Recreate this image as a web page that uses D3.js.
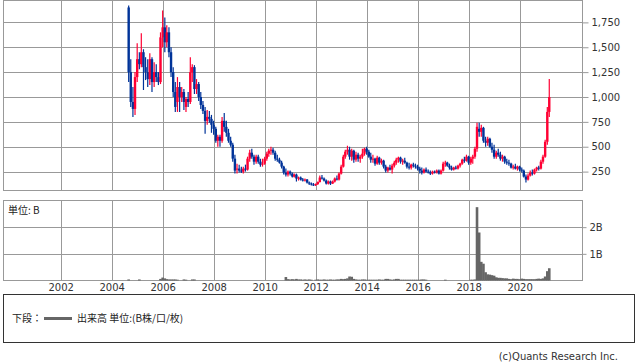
<!DOCTYPE html>
<html>
<head>
<meta charset="utf-8">
<script src="https://cdn.jsdelivr.net/npm/d3@7"></script>
<style>
  body { margin: 0; background: #fff; }
  svg { display: block; }
</style>
</head>
<body>
<div id="chart"></div>
<script>
// monthly candles, first one is Aug 2004
const firstMonth = new Date(2004, 7, 1);

// [open, high, low, close]
const candles = [
  // 2004
  [1900,1920,1150,1250],[1250,1380,900,950],[950,1100,800,880],[880,1250,820,1200],[1200,1540,1150,1380],
  // 2005
  [1380,1450,1280,1330],[1330,1640,1300,1450],[1450,1480,1070,1300],[1300,1400,1170,1250],[1250,1380,1100,1180],[1180,1440,1120,1380],
  [1380,1400,1050,1150],[1150,1350,1100,1250],[1250,1330,1150,1200],[1200,1250,1120,1150],[1150,1650,1130,1600],[1600,1870,1500,1700],
  // 2006
  [1700,1800,1450,1550],[1550,1720,1500,1650],[1650,1700,1400,1450],[1450,1500,1200,1250],[1250,1300,1000,1050],[1050,1150,850,900],
  [950,1200,850,1100],[1100,1150,850,1000],[1000,1100,950,1050],[1050,1080,870,950],[900,1000,850,980],[980,1050,900,950],
  // 2007
  [950,1400,930,1250],[1250,1330,1150,1300],[1300,1320,1030,1080],[1080,1180,1030,1130],[1130,1150,960,1000],[1000,1050,880,920],
  [920,960,830,860],[860,900,630,760],[760,870,720,800],[800,860,740,780],[780,820,640,720],[720,760,620,680],
  // 2008
  [680,700,540,560],[560,620,500,600],[600,620,500,560],[560,800,540,760],[760,840,650,700],[700,760,600,640],
  [640,680,540,560],[560,600,500,520],[520,540,350,380],[380,420,230,260],[270,330,230,280],[280,320,240,260],
  // 2009
  [260,300,235,250],[250,300,230,280],[280,320,250,270],[270,400,260,380],[380,470,350,440],[440,480,380,400],
  [400,420,320,350],[350,420,330,400],[400,420,330,350],[350,380,300,320],[320,380,300,330],[330,400,320,380],
  // 2010
  [380,450,360,430],[430,480,400,460],[460,500,420,470],[470,490,420,440],[440,460,360,380],[380,420,350,370],
  [370,390,330,340],[340,360,280,300],[300,310,220,240],[240,280,200,220],[220,260,200,250],[250,260,210,230],
  // 2011
  [230,240,190,200],[200,230,190,220],[220,230,150,180],[180,200,160,190],[190,200,160,170],[170,185,150,160],
  [160,180,150,170],[170,175,130,140],[140,150,115,130],[130,140,110,120],[120,135,105,115],[115,130,105,125],
  // 2012
  [125,150,115,145],[145,210,140,190],[190,215,170,180],[180,190,150,160],[160,170,120,130],[130,160,120,150],
  [150,160,115,130],[130,160,125,150],[150,190,140,180],[180,210,160,170],[170,240,160,230],[230,320,220,300],
  // 2013
  [300,420,290,400],[400,470,380,450],[450,510,420,470],[470,500,370,400],[400,480,360,460],[460,470,340,370],
  [370,450,350,420],[420,440,350,380],[380,420,340,400],[400,480,380,430],[430,490,410,480],[480,500,420,450],
  // 2014
  [450,470,390,400],[400,440,340,370],[370,420,340,380],[380,390,310,330],[330,410,320,390],[390,400,320,340],
  [340,380,320,360],[360,370,280,300],[300,320,240,260],[260,300,240,290],[290,320,260,270],[270,330,230,310],
  // 2015
  [310,360,290,340],[340,390,320,370],[370,400,340,390],[390,400,330,350],[350,380,320,360],[360,390,330,340],
  [340,350,280,300],[300,340,270,290],[290,330,270,320],[320,340,290,310],[310,330,280,300],[300,320,260,280],
  // 2016
  [280,300,230,260],[260,290,220,240],[240,280,230,270],[270,290,240,250],[250,270,230,245],[245,260,215,230],
  [230,260,220,250],[250,260,230,240],[240,270,230,260],[260,270,220,230],[230,270,220,260],[260,350,250,330],
  // 2017
  [330,360,300,340],[340,350,300,310],[310,330,270,290],[290,310,260,270],[270,300,260,290],[290,310,270,280],
  [280,320,270,310],[310,340,290,330],[330,380,320,370],[370,400,340,360],[360,420,350,400],[400,410,320,340],
  // 2018
  [340,400,320,380],[380,420,330,400],[400,500,380,480],[480,740,450,700],[680,740,600,650],[650,720,600,690],
  [690,700,540,560],[560,600,500,540],[540,600,510,580],[580,590,490,500],[500,540,440,470],[470,520,380,400],
  // 2019
  [400,460,380,440],[440,480,400,420],[420,450,360,380],[380,420,350,400],[400,410,330,350],[350,380,320,340],
  [340,370,310,330],[330,340,280,290],[290,320,270,300],[300,330,270,280],[280,310,260,300],[300,310,250,270],
  // 2020
  [270,290,240,260],[260,270,190,200],[200,220,140,170],[170,230,160,210],[210,260,200,240],[240,270,210,230],
  [230,280,220,270],[270,300,250,290],[290,310,260,280],[280,370,270,350],[350,420,330,400],[400,570,390,550],
  // 2021
  [550,900,520,850],[850,1180,800,1000]
];

// monthly volume, billions
const volume = [
  0.04,0,0,0,0,
  0.04,0,0,0,0,0,0,0,0,0,0.06,0.11,
  0.08,0.05,0.04,0.04,0.04,0.04,0.03,0,0,0.04,0.03,0,
  0,0.04,0.04,0,0,0,0,0,0,0,0,0,
  0,0,0,0,0,0,0,0,0,0,0,0,
  0,0,0,0,0,0,0,0,0,0,0,0,
  0,0,0,0,0,0,0,0,0,0.13,0.05,0.04,
  0.05,0.04,0.06,0.04,0.04,0.03,0.04,0.03,0.04,0.03,0,0.03,
  0.04,0.03,0.03,0.04,0.03,0.03,0.04,0.03,0.03,0.04,0.04,0.06,
  0.05,0.06,0.08,0.15,0.14,0.06,0.04,0.03,0.03,0.04,0.04,0.03,
  0.03,0.03,0.03,0.03,0.03,0.04,0.03,0.03,0.06,0.06,0.04,0.03,
  0.04,0.06,0.06,0.03,0.03,0.03,0.03,0.03,0.03,0.03,0.03,0.03,
  0.03,0.04,0.04,0.03,0,0,0,0,0,0,0,0,
  0.03,0,0,0,0,0,0,0,0,0,0,0,
  0.03,0.03,0.04,2.75,1.8,0.7,0.63,0.31,0.23,0.22,0.2,0.18,
  0.12,0.1,0.1,0.09,0.08,0.08,0.06,0.05,0.07,0.06,0.06,0.05,
  0.07,0.06,0.05,0.05,0.05,0.05,0.05,0.06,0.07,0.06,0.08,0.15,
  0.35,0.46
];

const priceTicks = [250, 500, 750, 1000, 1250, 1500, 1750];
const volumeTicks = [1, 2];
const yearTicks = [2002, 2004, 2006, 2008, 2010, 2012, 2014, 2016, 2018, 2020];

const UP = "#ff0033", DOWN = "#003399", GRID = "#999", VOL = "#666";
const FONT = "'DejaVu Sans', Verdana, sans-serif";
const JP = "'Noto Sans CJK JP', sans-serif";

const W = 638, H = 362;
const left = 3.5, right = 582.5;
const top1 = 0.5, bot1 = 190.5;
const top2 = 200.5, bot2 = 280.5;

const svg = d3.select("#chart").append("svg")
  .attr("width", W).attr("height", H)
  .style("font-family", FONT);

svg.append("rect").attr("width", W).attr("height", H).attr("fill", "#fff");

// each candle sits at the end of its month
const months = candles.map((_, i) => d3.timeMonth.offset(firstMonth, i + 1));

const x = d3.scaleTime()
  .domain([new Date(1999, 9, 5), new Date(2022, 5, 20)])
  .range([left, right]);
const yP = d3.scaleLinear().domain([60, 1970]).range([bot1, top1]);
const yV = d3.scaleLinear().domain([0, 3]).range([bot2, top2]);

const yearDates = yearTicks.map(y => new Date(y, 0, 1));

function panel(y0, y1, yScale, ticks, fmt, tickLen) {
  const g = svg.append("g");
  g.selectAll(".hg").data(ticks).enter().append("line")
    .attr("x1", left).attr("x2", right)
    .attr("y1", d => Math.round(yScale(d)) + 0.5).attr("y2", d => Math.round(yScale(d)) + 0.5)
    .attr("stroke", GRID);
  g.selectAll(".vg").data(yearDates).enter().append("line")
    .attr("x1", d => Math.round(x(d)) + 0.5).attr("x2", d => Math.round(x(d)) + 0.5)
    .attr("y1", y0).attr("y2", y1)
    .attr("stroke", GRID);
  g.append("rect")
    .attr("x", left).attr("y", y0).attr("width", right - left).attr("height", y1 - y0)
    .attr("fill", "none").attr("stroke", GRID);

  const axis = g.append("g").attr("transform", `translate(${right},0)`)
    .call(d3.axisRight(yScale).tickValues(ticks).tickSize(tickLen).tickPadding(3).tickFormat(fmt));
  axis.select(".domain").remove();
  axis.selectAll(".tick line").attr("stroke", GRID);
  axis.selectAll(".tick text").attr("fill", "#333").attr("font-size", 10).attr("font-family", FONT);
  return g;
}

panel(top1, bot1, yP, priceTicks, d3.format(","), 6);
panel(top2, bot2, yV, volumeTicks, d => d + "B", 4);

// candles
const cg = svg.append("g");
candles.forEach((c, i) => {
  const [o, hi, lo, cl] = c;
  const cx = x(months[i]);
  const col = cl >= o ? UP : DOWN;
  cg.append("line")
    .attr("x1", cx).attr("x2", cx)
    .attr("y1", yP(hi)).attr("y2", yP(lo))
    .attr("stroke", col).attr("stroke-width", 1.2);
  const yt = yP(Math.max(o, cl)), yb = yP(Math.min(o, cl));
  cg.append("rect")
    .attr("x", cx - 1.2).attr("width", 2.4)
    .attr("y", yt).attr("height", Math.max(1, yb - yt))
    .attr("fill", col);
});

// volume bars
const vg = svg.append("g");
volume.forEach((v, i) => {
  if (!v) return;
  const cx = x(months[i]);
  vg.append("rect")
    .attr("x", cx - 1.3).attr("width", 2.6)
    .attr("y", yV(v)).attr("height", bot2 - yV(v))
    .attr("fill", VOL);
});

// year labels
const xa = svg.append("g").attr("transform", `translate(0,${bot2})`)
  .call(d3.axisBottom(x).tickValues(yearDates).tickSize(0).tickPadding(3).tickFormat(d3.timeFormat("%Y")));
xa.select(".domain").remove();
xa.selectAll(".tick text").attr("fill", "#333").attr("font-size", 10).attr("font-family", FONT);

svg.append("text").attr("x", 8).attr("y", 214)
  .attr("font-size", 10).attr("fill", "#222").attr("font-family", JP)
  .text("単位: B");

// legend box
const lg = svg.append("g");
lg.append("rect").attr("x", 3.5).attr("y", 294.5).attr("width", 631).attr("height", 48)
  .attr("fill", "#fff").attr("stroke", "#333");
lg.append("text").attr("x", 12).attr("y", 322).attr("font-size", 10).attr("fill", "#222")
  .attr("font-family", JP).text("下段：");
lg.append("line").attr("x1", 44).attr("x2", 72).attr("y1", 318.5).attr("y2", 318.5)
  .attr("stroke", VOL).attr("stroke-width", 3);
lg.append("text").attr("x", 77).attr("y", 322).attr("font-size", 10).attr("fill", "#222")
  .attr("font-family", JP).text("出来高 単位:(B株/口/枚)");

svg.append("text").attr("x", 618).attr("y", 360).attr("text-anchor", "end")
  .attr("font-size", 10).attr("fill", "#333").text("(c)Quants Research Inc.");
</script>
</body>
</html>
